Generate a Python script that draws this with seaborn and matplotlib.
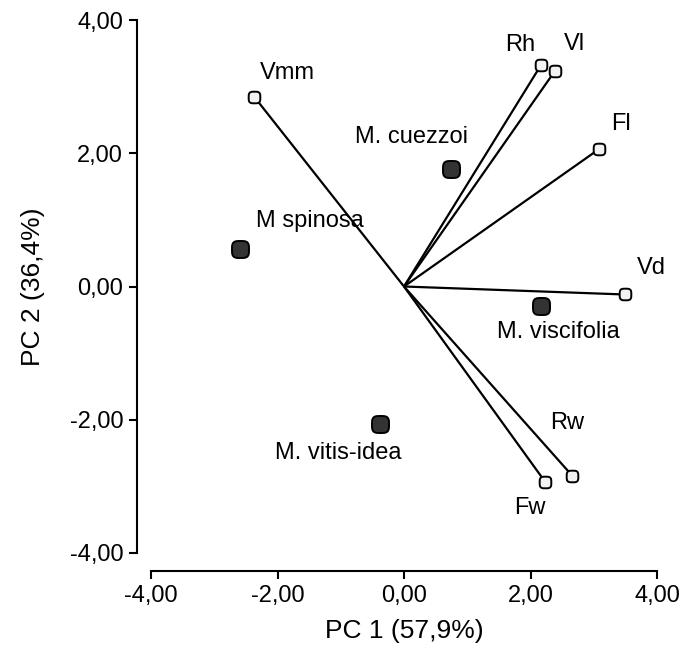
import numpy as np
import pandas as pd
import matplotlib
matplotlib.use("Agg")
import matplotlib.pyplot as plt
import seaborn as sns
from matplotlib.path import Path

# ---- data ----
species = ["M. cuezzoi", "M spinosa", "M. viscifolia", "M. vitis-idea"]
species_pc1 = [0.74, -2.59, 2.17, -0.38]
species_pc2 = [1.77, 0.56, -0.29, -2.06]

variables = ["Vmm", "Rh", "Vl", "Fl", "Vd", "Rw", "Fw"]
var_pc1 = [-2.37, 2.17, 2.39, 3.08, 3.49, 2.66, 2.23]
var_pc2 = [2.85, 3.33, 3.24, 2.06, -0.12, -2.84, -2.93]

x_ticks = [-4, -2, 0, 2, 4]
y_ticks = [-4, -2, 0, 2, 4]
x_label = "PC 1 (57,9%)"
y_label = "PC 2 (36,4%)"

# label offsets (points) for annotations
species_offsets = [(-28, 23), (50, 20), (12, -19), (-30, -21)]
var_offsets = [(24, 17), (-15, 14), (14, 19), (16, 18), (19, 19), (-4, 38), (-11, -19)]

sns.set_style("ticks")
plt.rcParams["font.family"] = ["Liberation Sans", "DejaVu Sans"]
plt.rcParams["text.color"] = "black"
plt.rcParams["axes.labelcolor"] = "black"

df_sp = pd.DataFrame({"PC1": species_pc1, "PC2": species_pc2, "name": species})
df_var = pd.DataFrame({"PC1": var_pc1, "PC2": var_pc2, "name": variables})

# rounded-square marker shape
t = np.linspace(0, 2 * np.pi, 80)
n = 3.5
mx = np.sign(np.cos(t)) * np.abs(np.cos(t)) ** (2 / n)
my = np.sign(np.sin(t)) * np.abs(np.sin(t)) ** (2 / n)
rsq = Path(np.column_stack([mx, my]), closed=False)

fig = plt.figure(figsize=(6.84, 6.49), dpi=100)
ax = fig.add_axes([151 / 684, 1 - 553 / 649, 506 / 684, 533 / 649])
sns.despine(ax=ax)
ax.spines["left"].set_position(("outward", 10))
ax.spines["bottom"].set_position(("outward", 13))

# vectors
for x, y in zip(var_pc1, var_pc2):
    ax.plot([0, x], [0, y], color="black", lw=1.6, zorder=2, solid_capstyle="butt")

sns.scatterplot(data=df_var, x="PC1", y="PC2", marker=rsq, s=70,
                color="#f2f2f2", edgecolor="black", linewidth=1.4, ax=ax, zorder=3)
sns.scatterplot(data=df_sp, x="PC1", y="PC2", marker=rsq, s=150,
                color="#333333", edgecolor="black", linewidth=1.4, ax=ax, zorder=3)

fs = 17
for name, x, y, off in zip(variables, var_pc1, var_pc2, var_offsets):
    ax.annotate(name, (x, y), xytext=off, textcoords="offset points",
                ha="center", va="center", fontsize=fs)
for name, x, y, off in zip(species, species_pc1, species_pc2, species_offsets):
    ax.annotate(name, (x, y), xytext=off, textcoords="offset points",
                ha="center", va="center", fontsize=fs)

ax.set_xlim(-4, 4)
ax.set_ylim(-4, 4)
ax.set_xticks(x_ticks)
ax.set_yticks(y_ticks)
ax.set_xticklabels([f"{v:.2f}".replace(".", ",") for v in x_ticks])
ax.set_yticklabels([f"{v:.2f}".replace(".", ",") for v in y_ticks])
ax.set_xlabel(x_label, fontsize=19, labelpad=9)
ax.set_ylabel(y_label, fontsize=19, labelpad=18)
ax.tick_params(axis="both", direction="out", length=6, width=1.5, color="black",
               labelcolor="black", labelsize=17, pad=4)
for s in ["left", "bottom"]:
    ax.spines[s].set_linewidth(1.5)
    ax.spines[s].set_color("black")

fig.savefig("out.png", dpi=100)
